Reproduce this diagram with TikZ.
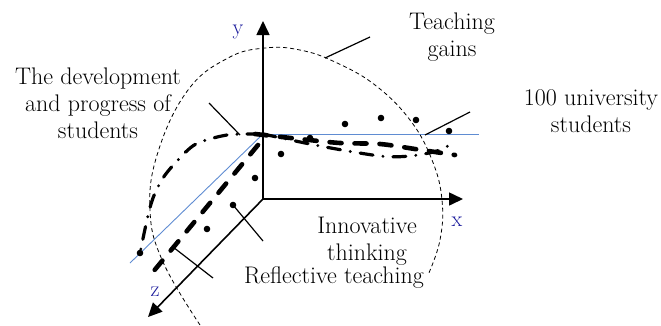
\documentclass[tikz,border=0pt]{standalone}
\usetikzlibrary{arrows.meta}
\definecolor{planeblue}{RGB}{95,140,210}
\definecolor{axisnavy}{RGB}{25,25,155}
\begin{document}
\begin{tikzpicture}[x=1pt, y=-1pt,
    axis/.style={line width=1.6pt, -{Triangle[length=14pt,width=13pt]}},
    lbl/.style={font=\fontsize{24}{27}\selectfont, align=center, inner sep=0pt},
    axlbl/.style={font=\fontsize{22}{25}\selectfont, text=axisnavy, inner sep=0pt},
    leader/.style={line width=1.2pt},
    planeline/.style={planeblue, line width=0.9pt},
    bolddash/.style={line width=4.6pt, line cap=round, dash pattern=on 12pt off 13pt},
    dashdot/.style={line width=3.2pt, line cap=round, dash pattern=on 13pt off 10pt on 0pt off 10pt},
    sphere/.style={line width=0.8pt, dash pattern=on 4pt off 3pt}]

\useasboundingbox (0,0) rectangle (661,325);

% axes
\coordinate (O) at (263,199);
\coordinate (P) at (263,134);
\coordinate (ytip) at (263,21);
\coordinate (xtip) at (463,199);
\coordinate (ztip) at (148,317);
\draw[axis] (O) -- (ytip);
\draw[axis] (O) -- (xtip);
\draw[axis] (O) -- (ztip);
\node[axlbl] (ylab) at (238,32) {y};
\node[axlbl] (xlab) at (457,222) {x};
\node[axlbl] (zlab) at (155,292) {z};

% reference plane
\coordinate (pright) at (479,134);
\coordinate (pleft) at (130,263);
\draw[planeline] (P) -- (pright);
\draw[planeline] (P) -- (pleft);

% dashed outline
\draw[sphere] plot[smooth, tension=0.7] coordinates {
    (200,325) (163,262) (150,210) (158,152) (188,90) (228,58) (265,48)
    (300,50) (335,62) (375,85) (410,120) (432,160) (442,200) (440,240) (428,275)};

% fitted curves
\draw[dashdot] plot[smooth] coordinates {
    (260,134) (227,135) (196,144) (177,161) (163,178) (153,198) (147,220) (140,253)};
\draw[dashdot] plot[smooth] coordinates {
    (263,134) (320,146) (380,156) (410,156) (437,151) (455,142)};
\draw[bolddash] plot[smooth] coordinates {
    (255,134) (300,139) (340,143) (380,144) (415,149) (455,155)};
\draw[bolddash] (258,145) -- (148,278);

% samples
\foreach \p in {(345,124),(381,118),(416,120),(449,131),(310,138),
                (281,154),(255,178),(233,205),(207,229),(140,253)}
    \fill \p circle (3.3pt);

% labels and leaders
\node[lbl] (dev) at (98,103) {The development\\and progress of\\students};
\node[lbl] (gains) at (452,37) {Teaching\\gains};
\node[lbl] (univ) at (591,111) {100 university\\students};
\node[lbl] (innov) at (367,241) {Innovative\\thinking};
\node[lbl] (refl) at (334,278) {Reflective teaching};

\coordinate (devA) at (209,103);  \coordinate (devB) at (240,135);
\coordinate (gainA) at (325,58);  \coordinate (gainB) at (370,37);
\coordinate (univA) at (425,135); \coordinate (univB) at (470,112);
\coordinate (innA) at (233,205);  \coordinate (innB) at (263,241);
\coordinate (refA) at (173,247);  \coordinate (refB) at (213,278);
\draw[leader] (devA) -- (devB);
\draw[leader] (gainA) -- (gainB);
\draw[leader] (univA) -- (univB);
\draw[leader] (innA) -- (innB);
\draw[leader] (refA) -- (refB);
\end{tikzpicture}
\end{document}
